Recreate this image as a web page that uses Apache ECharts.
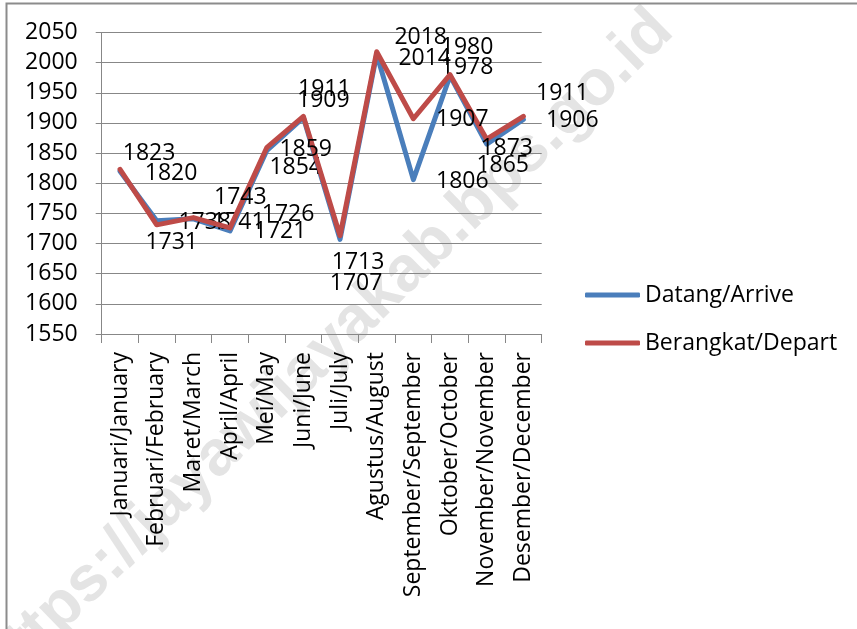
<!DOCTYPE html>
<html>
<head>
<meta charset="utf-8">
<script src="https://cdn.jsdelivr.net/npm/echarts@6/dist/echarts.min.js"></script>
<style>
  html, body { margin: 0; padding: 0; background: #fff; }
  #chart { width: 857px; height: 629px; }
</style>
</head>
<body>
<div id="chart"></div>
<script>
// Monthly passenger counts, arrivals vs departures
const months = [
  'Januari/January', 'Februari/February', 'Maret/March', 'April/April',
  'Mei/May', 'Juni/June', 'Juli/July', 'Agustus/August',
  'September/September', 'Oktober/October', 'November/November', 'Desember/December'
];
const arrive = [1820, 1738, 1741, 1721, 1854, 1909, 1707, 2014, 1806, 1978, 1865, 1906];
const depart = [1823, 1731, 1743, 1726, 1859, 1911, 1713, 2018, 1907, 1980, 1873, 1911];
const seriesNames = ['Datang/Arrive', 'Berangkat/Depart'];
const yMin = 1550, yMax = 2050, yStep = 50;

// Where each value label sits, relative to its point (px)
const arriveLabelShift = [[51,2],[48,2],[45,4],[50,1],[29,17],[20,-17],[16,44],[48,4],[49,2],[17,-8],[16,21],[49,1]];
const departLabelShift = [[29,-16],[15,18],[47,-20],[58,-13],[39,2],[21,-27],[18,27],[44,-14],[49,1],[17,-27],[20,9],[39,-23]];

const FONT = '"Open Sans", sans-serif';
const FS = 23;
const GRID_GRAY = '#878787';
const BLUE = '#4A7EBB';
const RED = '#BE4B48';

function withLabels(values, shifts) {
  return values.map((v, i) => ({ value: v, label: { offset: shifts[i] } }));
}

const chart = echarts.init(document.getElementById('chart'), null, { renderer: 'canvas' });

chart.setOption({
  animation: false,
  backgroundColor: '#fff',
  textStyle: { fontFamily: FONT },
  graphic: [
    {
      type: 'text',
      z: -10,
      x: 326, y: 350,
      rotation: Math.PI * 44.3 / 180,
      style: {
        text: 'https://jayawijayakab.bps.go.id',
        font: 'bold 64px "Liberation Sans", Arial, sans-serif',
        fill: '#e4e4e4',
        align: 'center',
        verticalAlign: 'middle'
      }
    },
    {
      type: 'rect',
      z: -5,
      shape: { x: 6.5, y: 3.5, width: 1000, height: 1000 },
      style: { fill: 'none', stroke: '#8c8c8c', lineWidth: 2 }
    }
  ],
  grid: { left: 101.7, top: 32.5, right: 315.3, bottom: 295 },
  legend: {
    orient: 'vertical',
    left: 580,
    top: 277,
    itemWidth: 55,
    itemHeight: 5,
    itemGap: 22,
    icon: 'roundRect',
    textStyle: { fontFamily: FONT, fontSize: FS, color: '#000', lineHeight: 26 },
    data: seriesNames
  },
  xAxis: {
    type: 'category',
    data: months,
    boundaryGap: true,
    axisLine: { lineStyle: { color: GRID_GRAY, width: 1 } },
    axisTick: { show: true, interval: 0, length: 9, lineStyle: { color: GRID_GRAY } },
    axisLabel: {
      interval: 0,
      rotate: 90,
      margin: 18,
      fontFamily: FONT,
      fontSize: FS,
      color: '#000'
    },
    splitLine: { show: false }
  },
  yAxis: {
    type: 'value',
    min: yMin,
    max: yMax,
    interval: yStep,
    axisLine: { show: true, lineStyle: { color: GRID_GRAY, width: 1 } },
    axisTick: { show: true, length: 6, lineStyle: { color: GRID_GRAY } },
    axisLabel: {
      margin: 24,
      fontFamily: FONT,
      fontSize: FS,
      color: '#000',
      formatter: (v) => String(v)
    },
    splitLine: { show: true, lineStyle: { color: GRID_GRAY, width: 1 } }
  },
  series: [
    {
      name: seriesNames[0],
      type: 'line',
      data: withLabels(arrive, arriveLabelShift),
      symbol: 'circle',
      symbolSize: 1,
      z: 2,
      lineStyle: { color: BLUE, width: 5, cap: 'round', join: 'round' },
      itemStyle: { color: BLUE },
      label: {
        show: true,
        position: 'inside',
        fontFamily: FONT,
        fontSize: FS,
        color: '#000'
      }
    },
    {
      name: seriesNames[1],
      type: 'line',
      data: withLabels(depart, departLabelShift),
      symbol: 'circle',
      symbolSize: 1,
      z: 3,
      lineStyle: { color: RED, width: 5, cap: 'round', join: 'round' },
      itemStyle: { color: RED },
      label: {
        show: true,
        position: 'inside',
        fontFamily: FONT,
        fontSize: FS,
        color: '#000'
      }
    }
  ]
});
</script>
</body>
</html>
